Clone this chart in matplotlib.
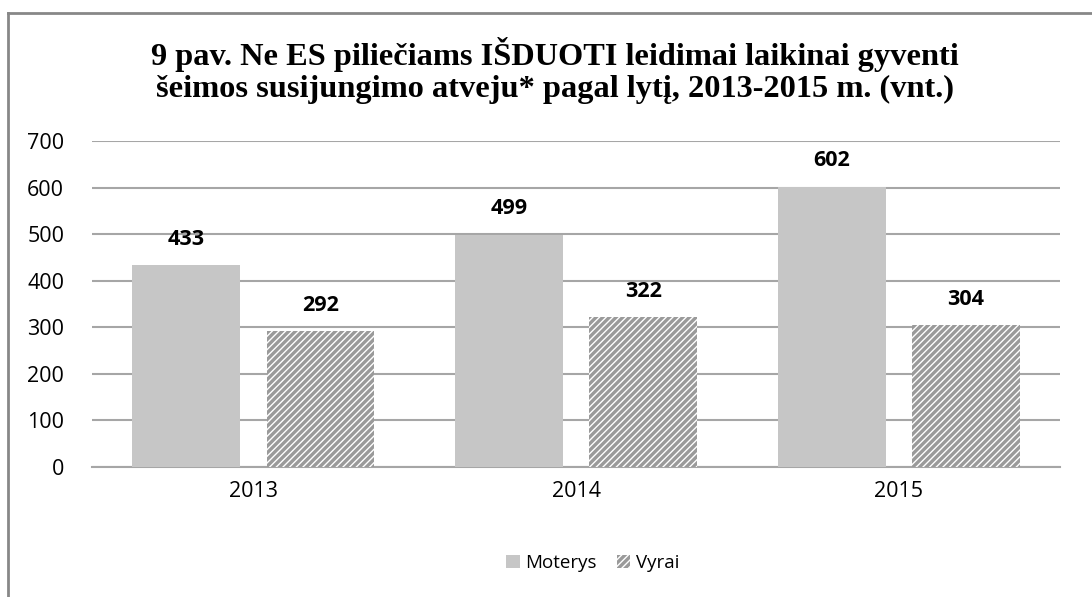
import matplotlib.pyplot as plt
from matplotlib.lines import Line2D
from matplotlib.patches import Patch
import numpy as np

years = ["2013", "2014", "2015"]
moterys = [433, 499, 602]
vyrai = [292, 322, 304]
yticks = [0, 100, 200, 300, 400, 500, 600, 700]
title = ("9 pav. Ne ES piliečiams IŠDUOTI leidimai laikinai gyventi\n"
         "šeimos susijungimo atveju* pagal lytį, 2013-2015 m. (vnt.)")

plt.rcParams["hatch.color"] = "#9a9a9a"
plt.rcParams["hatch.linewidth"] = 2.4
sans = ["Open Sans", "DejaVu Sans"]

fig = plt.figure(figsize=(10.92, 5.97), dpi=100)
ax = fig.add_axes([0.0842, 0.2178, 0.8868, 0.546])

x = np.arange(len(years))
w = 0.334
b1 = ax.bar(x - 0.208, moterys, w, color="#c6c6c6", edgecolor="none",
            label="Moterys", zorder=3)
b2 = ax.bar(x + 0.208, vyrai, w, color="white", edgecolor="#9a9a9a",
            linewidth=0, hatch="/////", label="Vyrai", zorder=3)

for bars, vals in ((b1, moterys), (b2, vyrai)):
    for r, v in zip(bars, vals):
        ax.annotate(str(v), (r.get_x() + r.get_width() / 2, v),
                    xytext=(0, 18.5), textcoords="offset points",
                    ha="center", va="center", fontsize=15.5,
                    fontweight="bold", family=sans)

ax.set_xlim(-0.5, 2.5)
ax.set_ylim(0, 700)
ax.set_yticks(yticks)
ax.set_xticks(x)
ax.set_xticklabels(years)
ax.yaxis.grid(True, color="#a6a6a6", linewidth=1.5, zorder=0)
ax.set_axisbelow(True)
for s in ("top", "right", "left"):
    ax.spines[s].set_visible(False)
ax.spines["bottom"].set_color("#a6a6a6")
ax.spines["bottom"].set_linewidth(1.5)
ax.tick_params(length=0, labelsize=15.5)
ax.tick_params(axis="y", pad=20)
ax.tick_params(axis="x", pad=10)
for lab in ax.get_xticklabels() + ax.get_yticklabels():
    lab.set_family(sans)

fig.text(0.508, 0.882, title, ha="center", va="center", fontsize=23.3,
         fontweight="bold", family="Liberation Serif", linespacing=1.12)

handles = [Patch(facecolor="#c6c6c6", edgecolor="none", label="Moterys"),
           Patch(facecolor="white", edgecolor="#9a9a9a", linewidth=0,
                 hatch="/////", label="Vyrai")]
leg = fig.legend(handles=handles, loc="center", bbox_to_anchor=(0.543, 0.057),
                 ncol=2, frameon=False, handlelength=0.7, handleheight=0.7,
                 handletextpad=0.3, columnspacing=1.1,
                 prop={"family": sans, "size": 13.5})

# outer chart frame (left and top edges)
fig.add_artist(Line2D([8 / 1092, 8 / 1092], [0, 1 - 13 / 597],
                      color="#878787", linewidth=2, transform=fig.transFigure))
fig.add_artist(Line2D([8 / 1092, 1], [1 - 13 / 597, 1 - 13 / 597],
                      color="#878787", linewidth=2, transform=fig.transFigure))

fig.savefig("out.png", dpi=100)
